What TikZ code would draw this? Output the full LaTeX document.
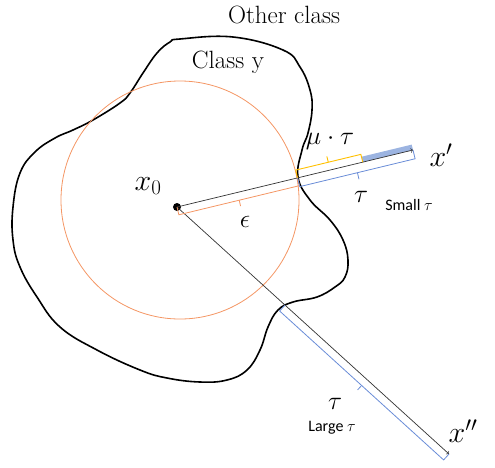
\RequirePackage{fix-cm}
\documentclass[tikz,border=0pt]{standalone}
\usepackage{fontspec}
\newfontfamily\notefont{Carlito}
\usetikzlibrary{calc}

\definecolor{ringorange}{RGB}{244,150,100}
\definecolor{spanblue}{RGB}{105,140,215}
\definecolor{spanyellow}{RGB}{255,192,0}
\definecolor{barblue}{RGB}{90,130,205}

\tikzset{
    classline/.style={line width=1.6pt, line join=round},
    ring/.style={draw=ringorange, line width=0.8pt},
    ray/.style={->, line width=0.7pt, black!80},
    dot/.style={circle, fill=black, inner sep=0pt, minimum size=8pt},
    bigmath/.style={font=\fontsize{30}{35}\selectfont},
    midmath/.style={font=\fontsize{26}{30}\selectfont},
    titletext/.style={font=\fontsize{25}{30}\selectfont},
    notetext/.style={font=\notefont\fontsize{16}{19}\selectfont},
}

% span mark: #1 style, #2 from, #3 to, #4 signed offset
\newcommand{\spanmark}[4]{%
    \coordinate (sa) at ($(#2)!#4!90:(#3)$);
    \coordinate (sb) at ($(#3)!#4!-90:(#2)$);
    \draw[#1] (#2) -- (sa) -- (sb) -- (#3);
    \coordinate (sm) at ($(sa)!0.5!(sb)$);
    \coordinate (sc) at ($(#2)!0.5!(#3)$);
    \draw[#1] (sm) -- ($(sc)!1.75!(sm)$);
}

\begin{document}
\begin{tikzpicture}[x=1pt, y=-1pt]
    \useasboundingbox (0,0) rectangle (495,467);

    % class region and epsilon ball
    \draw[classline] plot[smooth cycle, tension=0.7] coordinates {
      (180,39) (233,37) (283,50) (300,67) (310,90) (312,110) (308,133)
      (302,150) (298,177) (310,200) (330,220) (343,240) (348,260) (345,277)
      (335,287) (317,297) (293,302) (278,310) (268,327) (260,350) (247,370)
      (227,380) (200,382) (167,378) (140,370) (97,350) (60,327) (37,297)
      (20,267) (13,240) (13,207) (20,173) (35,152) (55,138) (73,130)
      (93,120) (120,103) (130,93) (143,73) (157,53) (170,42)};
    \draw[ring] (180,200) circle[radius=119pt];

    \node[dot] (x0) at (177,207) {};
    \coordinate (xp) at (413,150);
    \coordinate (xpp) at (449,454);
    \coordinate (c1) at ($(x0)!0.511!(xp)$);
    \coordinate (m1) at ($(x0)!0.787!(xp)$);
    \coordinate (c2) at ($(x0)!0.397!(xpp)$);

    \draw[line width=5.5pt, barblue, opacity=0.6] ($(m1)!2.8pt!90:(xp)$) -- ($(xp)!2.8pt!-90:(m1)$);
    \draw[ray] (x0.center) -- (xp);
    \draw[ray] (x0.center) -- (xpp);

    \spanmark{ringorange, line width=0.8pt}{x0.center}{c1}{-8pt}
    \spanmark{spanyellow, line width=0.9pt}{c1}{m1}{8pt}
    \spanmark{spanblue, line width=0.8pt}{c1}{xp}{-9pt}
    \spanmark{spanblue, line width=0.8pt}{c2}{xpp}{-8pt}

    \node[titletext] (other) at (284,15) {Other class};
    \node[titletext] (classy) at (228,62) {Class y};
    \node[bigmath] (x0lab) at (148,186) {$x_0$};
    \node[bigmath] (xplab) at (441,155) {$x'$};
    \node[bigmath] (xpplab) at (463,431) {$x''$};
    \node[midmath] (mutau) at (330,141) {$\mu\cdot\tau$};
    \node[midmath] (eps) at (245,222) {$\epsilon$};
    \node[midmath] (tausmall) at (361,197) {$\tau$};
    \node[notetext] (small) at (409,205) {Small $\tau$};
    \node[midmath] (taularge) at (335,404) {$\tau$};
    \node[notetext] (large) at (332,428) {Large $\tau$};
\end{tikzpicture}
\end{document}
